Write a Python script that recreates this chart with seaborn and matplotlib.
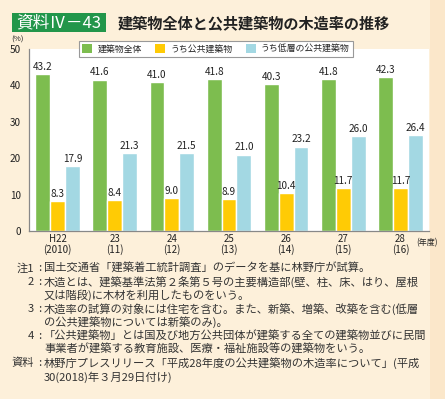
import matplotlib.pyplot as plt
import numpy as np
import pandas as pd
import seaborn as sns
from matplotlib.patches import Patch, Rectangle

sns.set_style("white")
plt.rcParams["font.family"] = ["Noto Sans CJK JP", "DejaVu Sans"]

# data
years = ["H22\n(2010)", "23\n(11)", "24\n(12)", "25\n(13)", "26\n(14)", "27\n(15)", "28\n(16)"]
series = ["建築物全体", "うち公共建築物", "うち低層の公共建築物"]
all_buildings = [43.2, 41.6, 41.0, 41.8, 40.3, 41.8, 42.3]
public_buildings = [8.3, 8.4, 9.0, 8.9, 10.4, 11.7, 11.7]
low_public_buildings = [17.9, 21.3, 21.5, 21.0, 23.2, 26.0, 26.4]
y_ticks = [0, 10, 20, 30, 40, 50]

notes = [
    ("注1", "国土交通省「建築着工統計調査」のデータを基に林野庁が試算。"),
    ("2", "木造とは、建築基準法第２条第５号の主要構造部(壁、柱、床、はり、屋根"),
    ("", "又は階段)に木材を利用したものをいう。"),
    ("3", "木造率の試算の対象には住宅を含む。また、新築、増築、改築を含む(低層"),
    ("", "の公共建築物については新築のみ)。"),
    ("4", "「公共建築物」とは国及び地方公共団体が建築する全ての建築物並びに民間"),
    ("", "事業者が建築する教育施設、医療・福祉施設等の建築物をいう。"),
    ("資料", "林野庁プレスリリース「平成28年度の公共建築物の木造率について」(平成"),
    ("", "30(2018)年３月29日付け)"),
]

df = pd.DataFrame({
    "year": years * 3,
    "series": [series[0]] * 7 + [series[1]] * 7 + [series[2]] * 7,
    "value": all_buildings + public_buildings + low_public_buildings,
})

colors = ["#7dbd4f", "#ffcb05", "#a3d8e3"]
bg = "#fdf0da"

fig = plt.figure(figsize=(4.45, 3.99), dpi=100, facecolor=bg)
W, H = 445, 399
fig.add_artist(Rectangle((430 / W, 0), 15 / W, 1, transform=fig.transFigure,
                         facecolor="#fbe7ca", edgecolor="none", zorder=0))
ax = fig.add_axes([29 / W, 1 - 231 / H, 400 / W, 182 / H])
ax.set_facecolor("white")

sns.barplot(data=df, x="year", y="value", hue="series", palette=colors,
            width=0.78, edgecolor="white", linewidth=1, saturation=1,
            legend=False, ax=ax)

for cont in ax.containers:
    ax.bar_label(cont, fmt="%.1f", padding=1.5, fontsize=7.2, color="#222222")

ax.set_xlim(-0.5, 6.5)
ax.set_ylim(0, 50)
ax.set_yticks(y_ticks)
ax.set_xlabel("")
ax.set_ylabel("")
ax.set_xticks(np.arange(0.5, 6.5, 1), minor=True)
ax.tick_params(axis="x", which="major", length=0, labelsize=7, pad=2, colors="#222222")
ax.tick_params(axis="x", which="minor", direction="in", length=4, color="#999999", width=0.8)
ax.tick_params(axis="y", length=3, width=0.8, labelsize=7.2, pad=3, colors="#222222")
ax.tick_params(axis="y", color="#888888")
for lbl in ax.get_xticklabels():
    lbl.set_linespacing(1.05)
sns.despine(ax=ax, top=True, right=True)
for s in ["left", "bottom"]:
    ax.spines[s].set_color("#888888")
    ax.spines[s].set_linewidth(0.9)

fig.text(17 / W, 1 - 39.5 / H, "(%)", fontsize=5.6, ha="center", va="center", color="#222222")
fig.text(427 / W, 1 - 243 / H, "(年度)", fontsize=5.8, ha="center", va="center", color="#222222")

handles = [Patch(facecolor=c, edgecolor="none") for c in colors]
leg = ax.legend(handles, series, ncol=3, loc="center",
                bbox_to_anchor=(216 / W, 1 - 49 / H), bbox_transform=fig.transFigure,
                fontsize=6.4, frameon=True, fancybox=False, framealpha=1,
                edgecolor="#999999", handlelength=1.1, handleheight=1.1,
                columnspacing=1.5, handletextpad=0.6, borderpad=0.4)
leg.get_frame().set_linewidth(0.8)

# title
fig.add_artist(Rectangle((12 / W, 1 - 32 / H), 94 / W, 19 / H,
                         transform=fig.transFigure, facecolor="#22964a", edgecolor="none"))
fig.text(59 / W, 1 - 23 / H, "資料Ⅳ－43", fontsize=12, color="white",
         ha="center", va="center")
fig.text(118 / W, 1 - 23 / H, "建築物全体と公共建築物の木造率の推移", fontsize=10.9,
         fontweight="bold", color="#222222", ha="left", va="center")

# notes
y0 = 268
for i, (lab, body) in enumerate(notes):
    y = 1 - (y0 + i * 13.6) / H
    if lab:
        fig.text(34 / W, y, lab, fontsize=8.1, ha="right", va="center", color="#333333")
        fig.text(39.5 / W, y, ":", fontsize=8.1, ha="center", va="center", color="#333333")
    fig.text(44 / W, y, body, fontsize=8.1, ha="left", va="center", color="#333333")

fig.savefig("out.png", dpi=100, facecolor=bg)
